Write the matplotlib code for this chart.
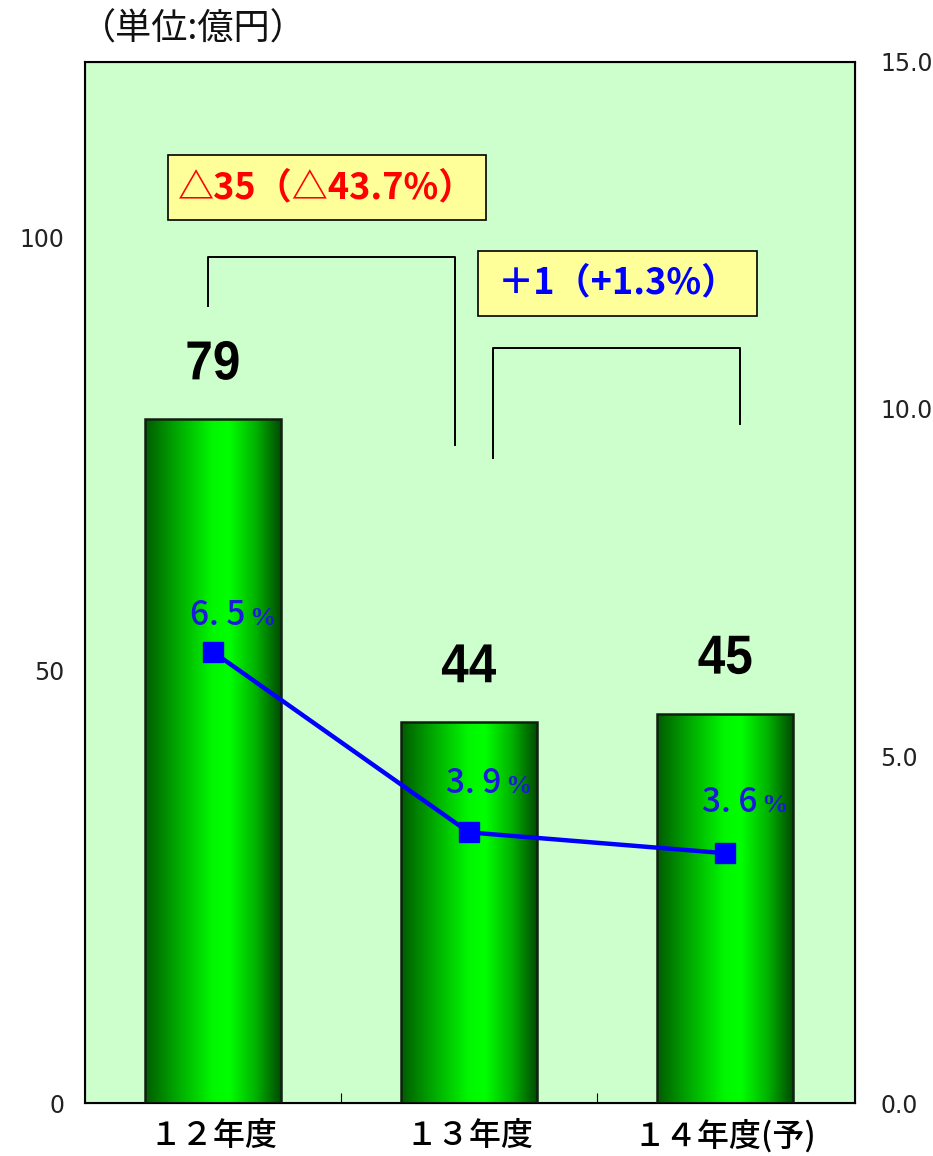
import matplotlib
matplotlib.use("Agg")
import matplotlib.pyplot as plt
import numpy as np
from matplotlib.colors import LinearSegmentedColormap
from matplotlib.font_manager import FontProperties
from matplotlib.patches import PathPatch, Rectangle
from matplotlib.textpath import TextPath
from matplotlib.transforms import Affine2D, ScaledTranslation

JP = ["Noto Sans CJK JP", "DejaVu Sans"]

# 金額（億円）と比率（%）
years = ["１２年度", "１３年度", "１４年度(予)"]
amounts = [79, 44, 45]
ratios = [6.5, 3.9, 3.6]
ratio_labels = ["6. 5", "3. 9", "3. 6"]
change_labels = ["△35（△43.7%）", "＋1（+1.3%）"]
change_colors = ["#ff0000", "#0000ff"]

fig = plt.figure(figsize=(9.33, 11.56), dpi=100)
ax = fig.add_axes([0.0911, 0.0458, 0.8253, 0.9006])
ax.set_facecolor("#ccffcc")
ax2 = ax.twinx()

x = np.arange(len(years))
width = 0.53

# 横方向グラデーションの棒
cmap = LinearSegmentedColormap.from_list(
    "bar", [(0.0, "#005c00"), (0.22, "#00a400"), (0.5, "#00f800"),
            (0.62, "#00ff00"), (0.82, "#00b000"), (1.0, "#004c00")])
grad = np.linspace(0, 1, 256).reshape(1, -1)
bars = ax.bar(x, amounts, width, color="none", edgecolor="#102010",
              linewidth=1.8, zorder=3)
for b in bars:
    im = ax.imshow(grad, cmap=cmap, aspect="auto", zorder=2,
                   extent=[b.get_x(), b.get_x() + b.get_width(), 0, b.get_height()])
    im.set_clip_path(b)

# 棒の上の金額（縦長の太字）
num_prop = FontProperties(family="Liberation Sans", weight="bold")
for xi, v in zip(x, amounts):
    tp = TextPath((0, 0), f"{v}", size=55, prop=num_prop)
    ext = tp.get_extents()
    cx = (ext.x0 + ext.x1) / 2
    tr = (Affine2D().translate(-cx, 0).scale(0.9, 1.0).translate(0, 40)
          + ScaledTranslation(xi, v, ax.transData))
    ax.add_patch(PathPatch(tp, transform=tr, facecolor="black",
                           edgecolor="none", zorder=5, clip_on=False))

ax.set_xlim(-0.5, 2.508)
ax.set_ylim(0, 120.3)
ax.set_yticks([0, 50, 100])
ax.tick_params(axis="y", length=0, pad=15, labelsize=17, labelcolor="#222222")
ax.set_xticks(x)
ax.set_xticklabels(years, family=JP, fontsize=23, fontweight="medium")
ax.set_xticks([0.5, 1.5], minor=True)
ax.tick_params(axis="x", which="major", length=0, pad=12)
ax.tick_params(axis="x", which="minor", direction="in", length=7, width=0.8)
for s in ax.spines.values():
    s.set_linewidth(1.5)

# 比率の折れ線（右軸）
ax2.plot(x, ratios, color="#0000ff", lw=3.2, marker="s", ms=14, zorder=5)
ax2.set_ylim(0, 15.0)
ax2.set_yticks([0, 5, 10, 15])
ax2.set_yticklabels([f"{t:.1f}" for t in [0, 5, 10, 15]])
ax2.tick_params(axis="y", length=0, pad=18, labelsize=17, labelcolor="#222222")
ax.set_zorder(1)
ax2.set_zorder(2)
ax2.patch.set_visible(False)

label_dy = [27, 39, 41]
for xi, r, lab, dy in zip(x, ratios, ratio_labels, label_dy):
    ax2.annotate(lab, (xi, r), xytext=(32, dy), textcoords="offset pixels",
                 ha="right", va="baseline", fontsize=24, fontweight="medium",
                 color="#1a1adc", family=["Noto Sans CJK JP", "DejaVu Sans"])
    ax2.annotate("%", (xi, r), xytext=(36, dy), textcoords="offset pixels",
                 ha="left", va="baseline", fontsize=19, fontweight="bold",
                 color="#1a1adc", family=["Liberation Serif", "DejaVu Serif"])

# 増減の注記と括弧線
ax.plot([-0.02, -0.02, 0.945, 0.945], [92.1, 97.8, 97.8, 76.0],
        color="black", lw=1.4, zorder=4)
ax.plot([1.094, 1.094, 2.06, 2.06], [74.5, 87.3, 87.3, 78.5],
        color="black", lw=1.4, zorder=4)

boxes = [(-0.176, 102.0, 1.242, 7.5), (1.035, 91.0, 1.09, 7.5)]
for (bx, by, bw, bh), txt, col in zip(boxes, change_labels, change_colors):
    ax.add_patch(Rectangle((bx, by), bw, bh, facecolor="#ffff99",
                           edgecolor="black", lw=1.2, zorder=4))
    ax.text(bx + bw / 2, by + bh / 2, txt, ha="center", va="center",
            fontsize=26, fontweight="bold", color=col, family=JP, zorder=5)

fig.text(80 / 933, 1 - 30 / 1156, "（単位:億円）", family=JP, fontsize=26,
         ha="left", va="center", color="#111111")

fig.savefig("out.png", dpi=100, facecolor="white")
